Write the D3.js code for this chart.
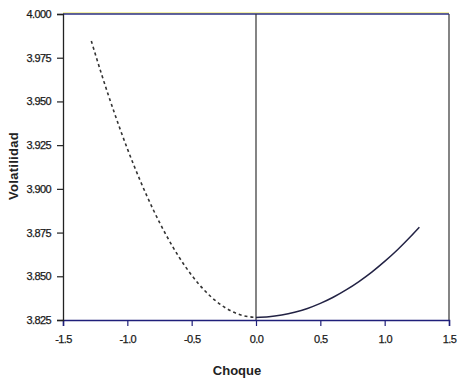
<!DOCTYPE html>
<html>
<head>
<meta charset="utf-8">
<script src="https://cdn.jsdelivr.net/npm/d3@7"></script>
<style>
  body { margin: 0; background: #fff; }
  svg text { font-family: "Liberation Sans", Arial, sans-serif; }
</style>
</head>
<body>
<div id="chart"></div>
<script>
(function() {
	// valores (curva de impacto de noticias)
	var choqueNeg = [-1.28, -1.2, -1.1, -1.0, -0.9, -0.8, -0.7, -0.6, -0.5, -0.4, -0.3, -0.2, -0.1, 0.0];
	var volNeg = [3.9846, 3.9655, 3.9433, 3.9230, 3.9047, 3.8883, 3.8738, 3.8612, 3.8506, 3.8419, 3.8352, 3.8304, 3.8275, 3.8265];
	var choquePos = [0.0, 0.1, 0.2, 0.3, 0.4, 0.5, 0.6, 0.7, 0.8, 0.9, 1.0, 1.1, 1.2, 1.27];
	var volPos = [3.8265, 3.8268, 3.8278, 3.8294, 3.8316, 3.8345, 3.8380, 3.8422, 3.8470, 3.8524, 3.8585, 3.8652, 3.8726, 3.8781];
	var xTicks = [-1.5, -1.0, -0.5, 0.0, 0.5, 1.0, 1.5];
	var yTicks = [3.825, 3.850, 3.875, 3.900, 3.925, 3.950, 3.975, 4.000];

	var svgwidth = 457;
	var svgheight = 381;
	var left = 63, right = 449, top = 14, bottom = 320;

	var svg = d3.select("#chart")
				.append("svg")
				.attr("width", svgwidth)
				.attr("height", svgheight);

	var x = d3.scaleLinear().domain([-1.5, 1.5]).range([left, right]);
	var y = d3.scaleLinear().domain([3.825, 4.0]).range([bottom, top]);

	// marco
	svg.append("line")
		.attr("x1", right).attr("x2", right)
		.attr("y1", top).attr("y2", bottom)
		.attr("stroke", "#333").attr("stroke-width", 1.2);
	svg.append("line")
		.attr("x1", left).attr("x2", right)
		.attr("y1", top - 1).attr("y2", top - 1)
		.attr("stroke", "#e6e04a").attr("stroke-width", 1);
	svg.append("line")
		.attr("x1", left).attr("x2", right)
		.attr("y1", top).attr("y2", top)
		.attr("stroke", "#2b2f86").attr("stroke-width", 1.3);

	// linea vertical en cero
	svg.append("line")
		.attr("x1", x(0)).attr("x2", x(0))
		.attr("y1", top).attr("y2", bottom)
		.attr("stroke", "#333").attr("stroke-width", 1.2);

	var xAxis = svg.append("g")
		.attr("transform", "translate(0," + bottom + ")")
		.call(d3.axisBottom(x).tickValues(xTicks).tickSize(6).tickPadding(9)
			.tickFormat(function(d){ return d.toFixed(1); }));
	xAxis.select(".domain").attr("stroke", "#1f1f7a").attr("stroke-width", 1.5);
	xAxis.selectAll(".tick line").attr("stroke", "#1f1f7a").attr("stroke-width", 1.2);

	var yAxis = svg.append("g")
		.attr("transform", "translate(" + left + ",0)")
		.call(d3.axisLeft(y).tickValues(yTicks).tickSize(6).tickPadding(6)
			.tickFormat(d3.format(".3f")));
	yAxis.select(".domain").attr("stroke", "#222").attr("stroke-width", 1.3);
	yAxis.selectAll(".tick line").attr("stroke", "#222").attr("stroke-width", 1.2);

	svg.selectAll(".tick text")
		.attr("font-size", 11)
		.attr("letter-spacing", -0.6)
		.attr("fill", "#1a1a1a")
		.attr("stroke", "#1a1a1a").attr("stroke-width", 0.25)
		.style("font-family", "'Liberation Sans', Arial, sans-serif");

	var line = d3.line()
		.x(function(d){ return x(d[0]); })
		.y(function(d){ return y(d[1]); })
		.curve(d3.curveMonotoneX);

	svg.append("path")
		.datum(d3.zip(choqueNeg, volNeg))
		.attr("d", line)
		.attr("fill", "none")
		.attr("stroke", "#333")
		.attr("stroke-width", 1.6)
		.attr("stroke-dasharray", "3,3");

	svg.append("path")
		.datum(d3.zip(choquePos, volPos))
		.attr("d", line)
		.attr("fill", "none")
		.attr("stroke", "#222244")
		.attr("stroke-width", 1.5);

	svg.append("text")
		.attr("x", 237).attr("y", 375)
		.attr("text-anchor", "middle")
		.attr("font-size", 13).attr("font-weight", "bold")
		.attr("fill", "#222")
		.text("Choque");

	svg.append("text")
		.attr("transform", "translate(18,166) rotate(-90)")
		.attr("text-anchor", "middle")
		.attr("font-size", 13).attr("font-weight", "bold")
		.attr("letter-spacing", 0.3)
		.attr("fill", "#222")
		.text("Volatilidad");
})();
</script>
</body>
</html>
